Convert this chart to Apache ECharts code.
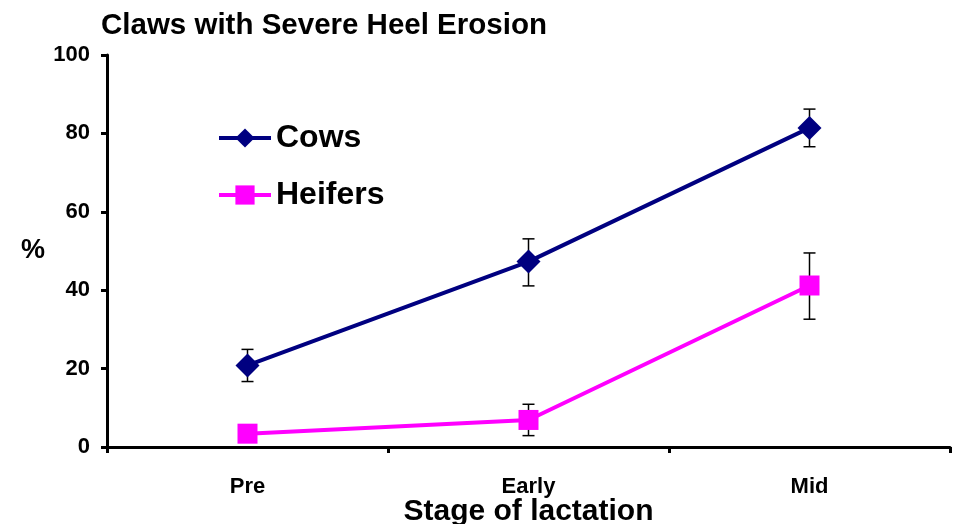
<!DOCTYPE html>
<html><head><meta charset="utf-8">
<script src="https://cdn.jsdelivr.net/npm/echarts@6/dist/echarts.min.js"></script>
<style>html,body{margin:0;padding:0;background:#fff}#c{width:960px;height:524px}</style>
</head><body><div id="c"></div>
<script>
var categories = ["Pre", "Early", "Mid"];
var cows = [20.8, 47.3, 81.4];
var cowsLow = [16.7, 41.1, 76.6];
var cowsHigh = [24.9, 53.1, 86.2];
var heifers = [3.4, 6.9, 41.2];
var heifersLow = [null, 2.9, 32.6];
var heifersHigh = [null, 10.9, 49.5];
var yTicks = [0, 20, 40, 60, 80, 100];

var font = 'Liberation Sans, Arial, sans-serif';
function errData(lo, hi) {
  var out = [];
  for (var i = 0; i < categories.length; i++) {
    if (lo[i] != null) out.push([i, lo[i], hi[i]]);
  }
  return out;
}
function errRender(params, api) {
  var x = api.value(0);
  var lo = api.coord([x, api.value(1)]);
  var hi = api.coord([x, api.value(2)]);
  var w = 6;
  var st = {stroke: '#000', lineWidth: 1.5};
  return {type: 'group', children: [
    {type: 'line', shape: {x1: lo[0], y1: lo[1], x2: hi[0], y2: hi[1]}, style: st},
    {type: 'line', shape: {x1: lo[0]-w, y1: lo[1], x2: lo[0]+w, y2: lo[1]}, style: st},
    {type: 'line', shape: {x1: hi[0]-w, y1: hi[1], x2: hi[0]+w, y2: hi[1]}, style: st}
  ]};
}
var chart = echarts.init(document.getElementById('c'), null, {renderer: 'canvas'});
chart.setOption({
  animation: false,
  title: {text: 'Claws with Severe Heel Erosion', left: 96, top: 6,
    textStyle: {fontFamily: font, fontWeight: 'bold', fontSize: 29.5, color: '#000'}},
  legend: {orient: 'vertical', left: 212, top: 117, itemWidth: 52, itemHeight: 24, itemGap: 25,
    data: ['Cows', 'Heifers'], lineStyle: {width: 4},
    textStyle: {fontFamily: font, fontWeight: 'bold', fontSize: 32, color: '#000'}},
  grid: {left: 107, right: 10, top: 55, bottom: 77, containLabel: false, outerBoundsMode: 'none'},
  xAxis: {type: 'category', data: categories, boundaryGap: true,
    name: 'Stage of lactation', nameLocation: 'middle', nameGap: 50, nameMoveOverlap: false,
    nameTextStyle: {fontFamily: font, fontWeight: 'bold', fontSize: 30, color: '#000'},
    axisLine: {lineStyle: {color: '#000', width: 3}},
    axisTick: {show: true, alignWithLabel: false, length: 6, lineStyle: {color: '#000', width: 3}},
    axisLabel: {fontFamily: font, fontWeight: 'bold', fontSize: 22, color: '#000', margin: 29},
    splitLine: {show: false}},
  yAxis: {type: 'value', min: yTicks[0], max: yTicks[yTicks.length-1], interval: 20,
    name: '%', nameLocation: 'middle', nameRotate: 0, nameGap: 62, nameMoveOverlap: false,
    nameTextStyle: {fontFamily: font, fontWeight: 'bold', fontSize: 27, color: '#000'},
    axisLine: {show: true, lineStyle: {color: '#000', width: 3}},
    axisTick: {show: true, length: 6, lineStyle: {color: '#000', width: 3}},
    axisLabel: {fontFamily: font, fontWeight: 'bold', fontSize: 22, color: '#000', margin: 17},
    splitLine: {show: false}},
  series: [
    {name: 'Cows', type: 'line', data: cows, symbol: 'diamond', symbolSize: 24,
      lineStyle: {color: '#000080', width: 4}, itemStyle: {color: '#000080'}, z: 3},
    {name: 'Heifers', type: 'line', data: heifers, symbol: 'rect', symbolSize: 20,
      lineStyle: {color: '#ff00ff', width: 4}, itemStyle: {color: '#ff00ff'}, z: 3},
    {type: 'custom', renderItem: errRender, data: errData(cowsLow, cowsHigh), z: 2, silent: true},
    {type: 'custom', renderItem: errRender, data: errData(heifersLow, heifersHigh), z: 2, silent: true}
  ]
});
</script></body></html>
